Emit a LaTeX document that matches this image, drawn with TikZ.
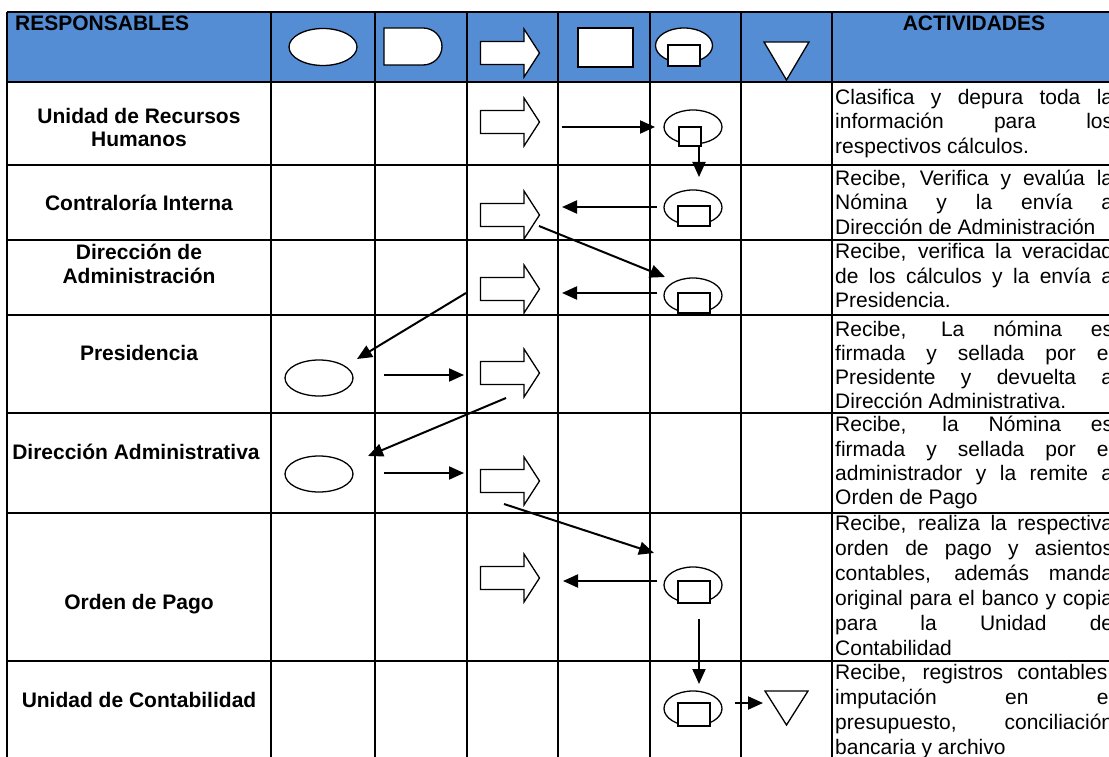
\documentclass[tikz,border=0pt]{standalone}
\usepackage{fontspec}
\setmainfont{Liberation Sans}
\usetikzlibrary{arrows.meta,shapes.geometric}
\definecolor{hdrblue}{RGB}{84,141,212}
\tikzset{
  gridline/.style={line width=2pt, black},
  sym/.style={draw=black, fill=white, line width=1.3pt},
  ell/.style={sym, ellipse, inner sep=0pt},
  conn/.style={line width=2pt, -{Triangle[length=15pt,width=13pt]}},
  lbl/.style={font=\fontsize{21}{24.5}\selectfont\bfseries, anchor=base, inner sep=0pt},
  act/.style={font=\fontsize{21}{24.5}\selectfont, anchor=base west, inner sep=0pt},
  blockarrow/.pic={
    \draw[sym] (-29.5,-11.5) -- (14,-11.5) -- (14,-24) -- (29.5,0) -- (14,24) -- (14,11.5) -- (-29.5,11.5) -- cycle;
    \coordinate (-tip) at (29.5,0);
  },
}
\newcommand{\J}[1]{\makebox[278pt][s]{#1}}
\begin{document}
\begin{tikzpicture}[x=1pt,y=-1pt]
\useasboundingbox (0,0) rectangle (1109,757);
\clip (0,0) rectangle (1109,757);
% header background
\fill[hdrblue] (7,12) rectangle (1125,82);
% grid
\foreach \yy in {12,82,165,240,315,413,513,661}
  \draw[gridline] (7,\yy) -- (1125,\yy);
\foreach \xx in {7,271,375,467,558,650,741,832}
  \draw[gridline] (\xx,12) -- (\xx,765);

% header texts
\node[lbl, anchor=base west] (hresp) at (15,31) {RESPONSABLES};
\node[lbl] (hact) at (974,31) {ACTIVIDADES};

% header symbols
\node[ell, minimum width=68pt, minimum height=37pt] (hell) at (323,47) {};
\draw[sym] (384,28) -- (423,28) arc[start angle=-90, end angle=90, x radius=19, y radius=18.5] -- (384,65) -- cycle;
\pic (harr) at (510,53) {blockarrow};
\node[sym, rectangle, minimum width=55pt, minimum height=39pt, inner sep=0pt] (hrect) at (605.5,47.5) {};
\node[ell, minimum width=57pt, minimum height=35pt] (hdoc) at (684,45.5) {};
\draw[sym] (668,45) rectangle (700,66);
\draw[sym] (764,42) -- (809,42) -- (786.5,80) -- cycle;

% responsables
\node[lbl] (l1a) at (139,123.5) {Unidad de Recursos};
\node[lbl] (l1b) at (139,146.5) {Humanos};
\node[lbl] (l2) at (139,210.5) {Contraloría Interna};
\node[lbl] (l3a) at (139,259.5) {Dirección de};
\node[lbl] (l3b) at (139,283.5) {Administración};
\node[lbl] (l4) at (139,360.5) {Presidencia};
\node[lbl] (l5) at (136,459.5) {Dirección Administrativa};
\node[lbl] (l6) at (139,609.5) {Orden de Pago};
\node[lbl] (l7) at (139,707.5) {Unidad de Contabilidad};

% actividades
\node[act] (a11) at (835,104.5) {\J{Clasifica y depura toda la}};
\node[act] (a12) at (835,129) {\J{información para los}};
\node[act] (a13) at (835,153.5) {respectivos cálculos.};
\node[act] (a21) at (835,185.5) {\J{Recibe, Verifica y evalúa la}};
\node[act] (a22) at (835,210) {\J{Nómina y la envía a}};
\node[act] (a23) at (835,234.5) {Dirección de Administración};
\node[act] (a31) at (835,258.5) {\J{Recibe, verifica la veracidad}};
\node[act] (a32) at (835,283) {\J{de los cálculos y la envía a}};
\node[act] (a33) at (835,307.5) {Presidencia.};
\node[act] (a41) at (835,336.5) {\J{Recibe, La nómina es}};
\node[act] (a42) at (835,360.5) {\J{firmada y sellada por el}};
\node[act] (a43) at (835,384.5) {\J{Presidente y devuelta a}};
\node[act] (a44) at (835,408) {Dirección Administrativa.};
\node[act] (a51) at (835,431.5) {\J{Recibe, la Nómina es}};
\node[act] (a52) at (835,456) {\J{firmada y sellada por el}};
\node[act] (a53) at (835,480.5) {\J{administrador y la remite a}};
\node[act] (a54) at (835,504.5) {Orden de Pago};
\node[act] (a61) at (835,530.5) {\J{Recibe, realiza la respectiva}};
\node[act] (a62) at (835,555.5) {\J{orden de pago y asientos}};
\node[act] (a63) at (835,580.5) {\J{contables, además manda}};
\node[act] (a64) at (835,605.5) {\J{original para el banco y copia}};
\node[act] (a65) at (835,630.5) {\J{para la Unidad de}};
\node[act] (a66) at (835,655.5) {Contabilidad};
\node[act] (a71) at (835,679.5) {\J{Recibe, registros contables,}};
\node[act] (a72) at (835,704.5) {\J{imputación en el}};
\node[act] (a73) at (835,729.5) {\J{presupuesto, conciliación}};
\node[act] (a74) at (835,754.5) {bancaria y archivo};

% block arrows
\pic (u1) at (510,122) {blockarrow};
\pic (u2) at (510,215) {blockarrow};
\pic (u3) at (510,289) {blockarrow};
\pic (u4) at (510,373) {blockarrow};
\pic (u5) at (510,481) {blockarrow};
\pic (u6) at (510,578) {blockarrow};

% document-like symbols (ellipse + rectangle)
\node[ell, minimum width=58pt, minimum height=34pt] (d1) at (693,127) {};
\draw[sym] (679,127) rectangle (701,146);
\node[ell, minimum width=58pt, minimum height=35pt] (d2) at (693,207.5) {};
\draw[sym] (678,206) rectangle (710,226);
\node[ell, minimum width=58pt, minimum height=35pt] (d3) at (693,295.5) {};
\draw[sym] (678,293) rectangle (710,313);
\node[ell, minimum width=58pt, minimum height=36pt] (d6) at (693,585) {};
\draw[sym] (678,581) rectangle (710,603);
\node[ell, minimum width=58pt, minimum height=35pt] (d7) at (693,708.5) {};
\draw[sym] (678,703) rectangle (710,726);

% ellipses (column 2)
\node[ell, minimum width=68pt, minimum height=36pt] (e4) at (319,378) {};
\node[ell, minimum width=68pt, minimum height=36pt] (e5) at (319,474) {};

% final triangle
\draw[sym] (765,691) -- (808,691) -- (786.5,725) -- cycle;
\coordinate (tri) at (765,703);

% connector end points
\coordinate (c1s) at (562,127);  \coordinate (c1e) at (655,127);
\coordinate (v1s) at (699,146);  \coordinate (v1e) at (699,177);
\coordinate (c2s) at (657,207);  \coordinate (c2e) at (562,207);
\coordinate (g2s) at (539,226);  \coordinate (g2e) at (665,277);
\coordinate (c3s) at (657,293);  \coordinate (c3e) at (562,293);
\coordinate (g3s) at (466,293);  \coordinate (g3e) at (357,359);
\coordinate (c4s) at (384,375);  \coordinate (c4e) at (464,375);
\coordinate (g4s) at (506,398);  \coordinate (g4e) at (368,456);
\coordinate (c5s) at (384,473);  \coordinate (c5e) at (464,473);
\coordinate (g5s) at (504,504);  \coordinate (g5e) at (654,553);
\coordinate (c6s) at (657,581);  \coordinate (c6e) at (563,581);
\coordinate (v6s) at (699,619);  \coordinate (v6e) at (699,684);
\coordinate (c7s) at (735,703);  \coordinate (c7e) at (763,703);

\draw[conn] (c1s) -- (c1e);
\draw[conn] (v1s) -- (v1e);
\draw[conn] (c2s) -- (c2e);
\draw[conn] (g2s) -- (g2e);
\draw[conn] (c3s) -- (c3e);
\draw[conn] (g3s) -- (g3e);
\draw[conn] (c4s) -- (c4e);
\draw[conn] (g4s) -- (g4e);
\draw[conn] (c5s) -- (c5e);
\draw[conn] (g5s) -- (g5e);
\draw[conn] (c6s) -- (c6e);
\draw[conn] (v6s) -- (v6e);
\draw[conn] (c7s) -- (c7e);
\end{tikzpicture}
\end{document}
